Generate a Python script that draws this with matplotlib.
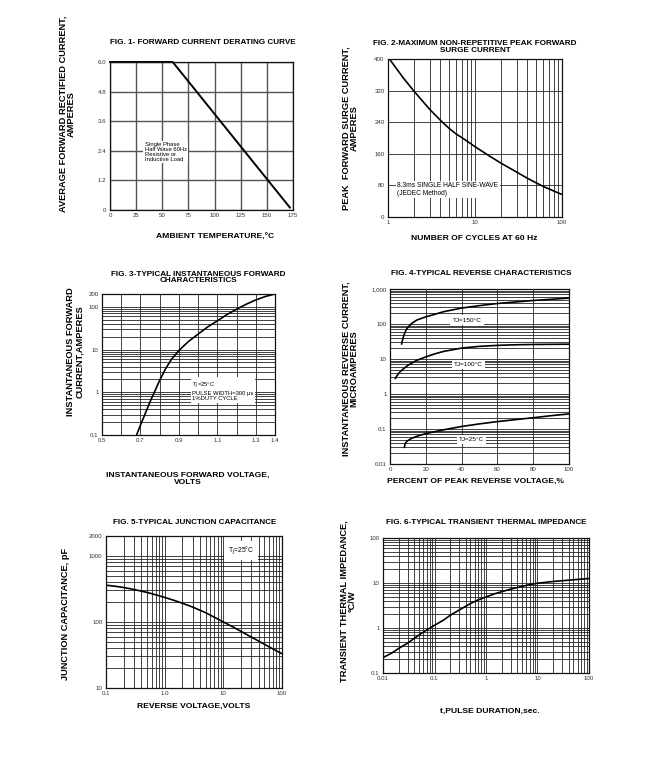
import matplotlib
matplotlib.use("Agg")
import matplotlib.pyplot as plt
from matplotlib.ticker import LogLocator, NullFormatter, MultipleLocator

plt.rcParams['font.family'] = ['Liberation Sans', 'DejaVu Sans']

W, H = 654, 769

# ---- data ----
f1_temp = [0, 60, 172]
f1_curr = [6.0, 6.0, 0.1]

f2_cycles = [1, 1.5, 2, 3, 4, 5, 6, 8, 10, 15, 20, 30, 40, 60, 80, 100]
f2_surge = [405, 352, 318, 273, 245, 225, 211, 193, 178, 153, 136, 114, 98, 78, 66, 57]

f3_volt = [0.68, 0.70, 0.72, 0.75, 0.78, 0.80, 0.83, 0.86, 0.90, 0.95, 1.0, 1.05,
           1.1, 1.15, 1.2, 1.25, 1.3, 1.35, 1.4]
f3_curr = [0.1, 0.17, 0.28, 0.6, 1.2, 1.9, 3.5, 5.8, 9.5, 15.5, 23, 34,
           47, 66, 88, 115, 145, 175, 200]

f4_pct_150 = [6.5, 7, 8, 9, 10, 12, 15, 20, 30, 40, 50, 60, 80, 100]
f4_ir_150 = [27, 35, 52, 68, 80, 103, 130, 160, 225, 285, 335, 385, 470, 550]
f4_pct_100 = [3, 4, 5, 7, 10, 15, 20, 25, 30, 40, 50, 60, 70, 80, 100]
f4_ir_100 = [2.8, 3.4, 4.0, 5.0, 6.6, 9.2, 11.5, 14, 16.5, 20.5, 23, 24.5, 25.5, 26, 26.5]
f4_pct_25 = [8, 8.5, 9.5, 12, 15, 20, 30, 40, 50, 60, 70, 80, 90, 100]
f4_ir_25 = [0.03, 0.038, 0.045, 0.054, 0.062, 0.074, 0.095, 0.118, 0.14, 0.163, 0.185,
            0.21, 0.24, 0.27]

f5_volt = [0.1, 0.15, 0.2, 0.3, 0.5, 0.7, 1, 1.5, 2, 3, 5, 7, 10, 15, 20, 30, 50, 70, 100]
f5_cap = [360, 345, 332, 310, 280, 258, 235, 210, 192, 168, 138, 118, 100, 83, 72, 59,
          46, 39, 33]

f6_t = [0.01, 0.015, 0.02, 0.03, 0.05, 0.07, 0.1, 0.15, 0.2, 0.3, 0.5, 0.7, 1, 1.5, 2,
        3, 5, 7, 10, 20, 50, 100]
f6_z = [0.22, 0.28, 0.35, 0.46, 0.7, 0.9, 1.15, 1.5, 1.9, 2.5, 3.5, 4.2, 4.9, 5.8, 6.4,
        7.3, 8.4, 9.2, 9.9, 10.8, 11.8, 12.6]

f1_xticks = [0, 25, 50, 75, 100, 125, 150, 175]
f1_yticks = [0, 1.2, 2.4, 3.6, 4.8, 6.0]
f1_ylabels = ['0', '1.2', '2.4', '3.6', '4.8', '6.0']
f2_xticks = [1, 10, 100]
f2_yticks = [0, 80, 160, 240, 320, 400]
f3_xticks = [0.5, 0.7, 0.9, 1.1, 1.3, 1.4]
f3_yticks = [0.1, 1, 10, 100, 200]
f3_ylabels = ['0.1', '1', '10', '100', '200']
f4_xticks = [0, 20, 40, 60, 80, 100]
f4_yticks = [0.01, 0.1, 1, 10, 100, 1000]
f4_ylabels = ['0.01', '0.1', '1', '10', '100', '1,000']
f5_xticks = [0.1, 1, 10, 100]
f5_xlabels = ['0.1', '1.0', '10', '100']
f5_yticks = [10, 100, 1000, 2000]
f6_xticks = [0.01, 0.1, 1, 10, 100]
f6_yticks = [0.1, 1, 10, 100]

fig = plt.figure(figsize=(W / 100, H / 100), dpi=100)

def ax_px(l, t, r, b):
    return fig.add_axes([l / W, 1 - b / H, (r - l) / W, (b - t) / H])

def ftext(x, y, s, **kw):
    fig.text(x / W, 1 - y / H, s, **kw)

GRID = dict(color='#222222', linewidth=0.6)
TFS = 5.9
LFS = 6.7

def style(ax):
    for sp in ax.spines.values():
        sp.set_linewidth(0.9)
        sp.set_color('#111111')
    ax.tick_params(which='both', length=0, pad=2.5, labelsize=4.4, colors='#333333')
    ax.set_axisbelow(True)

def lab(ax, ticks, labels=None, axis='x'):
    if labels is None:
        labels = [f'{t:g}' for t in ticks]
    if axis == 'x':
        ax.set_xticks(ticks)
        ax.set_xticklabels(labels)
    else:
        ax.set_yticks(ticks)
        ax.set_yticklabels(labels)

bbox_w = dict(facecolor='white', edgecolor='none', pad=1.0)

# ---- Fig 1 ----
a1 = ax_px(110, 62, 293, 210)
style(a1)
a1.set_xlim(0, 175)
a1.set_ylim(0, 6.0)
lab(a1, f1_xticks)
lab(a1, f1_yticks, f1_ylabels, 'y')
a1.grid(True, color='#555555', linewidth=1.0)
a1.plot(f1_temp, f1_curr, color='black', linewidth=1.4, clip_on=False)
a1.text(33, 2.35, 'Single Phase\nHalf Wave 60Hz\nResistive or\nInductive Load',
        fontsize=4.2, ha='left', va='center', linespacing=0.95, bbox=bbox_w)

# ---- Fig 2 ----
a2 = ax_px(388, 59, 562, 217)
style(a2)
a2.set_xscale('log')
a2.set_xlim(1, 100)
a2.set_ylim(0, 400)
lab(a2, f2_xticks)
lab(a2, f2_yticks, axis='y')
a2.xaxis.set_minor_locator(LogLocator(base=10, subs=range(2, 10)))
a2.xaxis.set_minor_formatter(NullFormatter())
a2.grid(True, which='both', **GRID)
a2.plot(f2_cycles, f2_surge, color='black', linewidth=1.2)
a2.text(1.28, 70, '8.3ms SINGLE HALF SINE-WAVE\n(JEDEC Method)', fontsize=4.8,
        ha='left', va='center', linespacing=1.1, bbox=bbox_w)

# ---- Fig 3 ----
a3 = ax_px(102, 294, 275, 435)
style(a3)
a3.set_yscale('log')
a3.set_xlim(0.5, 1.4)
a3.set_ylim(0.1, 200)
lab(a3, f3_xticks)
lab(a3, f3_yticks, f3_ylabels, 'y')
a3.xaxis.set_minor_locator(MultipleLocator(0.1))
a3.yaxis.set_minor_locator(LogLocator(base=10, subs=range(2, 10)))
a3.yaxis.set_minor_formatter(NullFormatter())
a3.grid(True, which='both', **GRID)
a3.plot(f3_volt, f3_curr, color='black', linewidth=1.2)
a3.text(0.97, 1.05, 'T$_J$=25\u00b0C\nPULSE WIDTH=300 \u03bcs\n1%DUTY CYCLE', fontsize=4.2,
        ha='left', va='center', linespacing=1.0, bbox=bbox_w)

# ---- Fig 4 ----
a4 = ax_px(390, 289, 569, 464)
style(a4)
a4.set_yscale('log')
a4.set_xlim(0, 100)
a4.set_ylim(0.01, 1000)
lab(a4, f4_xticks)
lab(a4, f4_yticks, f4_ylabels, 'y')
a4.yaxis.set_minor_locator(LogLocator(base=10, subs=range(2, 10)))
a4.yaxis.set_minor_formatter(NullFormatter())
a4.grid(True, which='both', **GRID)
a4.plot(f4_pct_150, f4_ir_150, color='black', linewidth=1.2)
a4.plot(f4_pct_100, f4_ir_100, color='black', linewidth=1.2)
a4.plot(f4_pct_25, f4_ir_25, color='black', linewidth=1.2)
for xx, yy, s in [(43, 130, 'TJ=150\u00b0C'), (44, 7.1, 'TJ=100\u00b0C'), (45.5, 0.051, 'TJ=25\u00b0C')]:
    a4.text(xx, yy, s, fontsize=4.6, ha='center', va='center',
            bbox=dict(facecolor='white', edgecolor='none', pad=1.5))

# ---- Fig 5 ----
a5 = ax_px(106, 536, 282, 688)
style(a5)
a5.set_xscale('log')
a5.set_yscale('log')
a5.set_xlim(0.1, 100)
a5.set_ylim(10, 2000)
lab(a5, f5_xticks, f5_xlabels)
lab(a5, f5_yticks, axis='y')
for ax_ in (a5.xaxis, a5.yaxis):
    ax_.set_minor_locator(LogLocator(base=10, subs=range(2, 10)))
    ax_.set_minor_formatter(NullFormatter())
a5.grid(True, which='both', **GRID)
a5.plot(f5_volt, f5_cap, color='black', linewidth=1.2)
a5.text(20, 1200, 'T$_J$=25\u00b0C', fontsize=4.8, ha='center', va='center',
        bbox=dict(facecolor='white', edgecolor='none', pad=2.5))

# ---- Fig 6 ----
a6 = ax_px(383, 538, 589, 673)
style(a6)
a6.set_xscale('log')
a6.set_yscale('log')
a6.set_xlim(0.01, 100)
a6.set_ylim(0.1, 100)
lab(a6, f6_xticks)
lab(a6, f6_yticks, axis='y')
for ax_ in (a6.xaxis, a6.yaxis):
    ax_.set_minor_locator(LogLocator(base=10, subs=range(2, 10)))
    ax_.set_minor_formatter(NullFormatter())
a6.grid(True, which='both', **GRID)
a6.plot(f6_t, f6_z, color='black', linewidth=1.2)

# ---- titles ----
TB = dict(fontsize=TFS, fontweight='bold', ha='center', va='center', linespacing=1.0)
ftext(203, 43, 'FIG. 1- FORWARD CURRENT DERATING CURVE', **TB)
ftext(475, 47, 'FIG. 2-MAXIMUM NON-REPETITIVE PEAK FORWARD\nSURGE CURRENT', **TB)
ftext(198, 277.5, 'FIG. 3-TYPICAL INSTANTANEOUS FORWARD\nCHARACTERISTICS', **TB)
ftext(481, 273, 'FIG. 4-TYPICAL REVERSE CHARACTERISTICS', **TB)
ftext(195, 523, 'FIG. 5-TYPICAL JUNCTION CAPACITANCE', **TB)
ftext(486, 523, 'FIG. 6-TYPICAL TRANSIENT THERMAL IMPEDANCE', **TB)

# ---- x labels ----
XB = dict(fontsize=6.1, fontweight='bold', ha='center', va='center', linespacing=1.0)
ftext(215, 237, 'AMBIENT TEMPERATURE,\u00b0C', **XB)
ftext(474, 238, 'NUMBER OF CYCLES AT 60 Hz', **XB)
ftext(188, 479, 'INSTANTANEOUS FORWARD VOLTAGE,\nVOLTS', **XB)
ftext(475, 481, 'PERCENT OF PEAK REVERSE VOLTAGE,%', **XB)
ftext(194, 706, 'REVERSE VOLTAGE,VOLTS', **XB)
ftext(490, 711, 't,PULSE DURATION,sec.', **XB)

# ---- y labels ----
YB = dict(fontsize=LFS, fontweight='bold', ha='center', va='center', rotation=90, linespacing=0.9)
ftext(67, 114, 'AVERAGE FORWARD RECTIFIED CURRENT,\nAMPERES', **YB)
ftext(350, 128, 'PEAK  FORWARD SURGE CURRENT,\nAMPERES', **YB)
ftext(75, 352, 'INSTANTANEOUS FORWARD\nCURRENT,AMPERES', **YB)
ftext(350, 369, 'INSTANTANEOUS REVERSE CURRENT,\nMICROAMPERES', **YB)
ftext(66, 614, 'JUNCTION CAPACITANCE, pF', **YB)
ftext(348, 601, 'TRANSIENT THERMAL IMPEDANCE,\n\u00b0C/W', **YB)

fig.savefig('out.png', dpi=100, facecolor='white')
